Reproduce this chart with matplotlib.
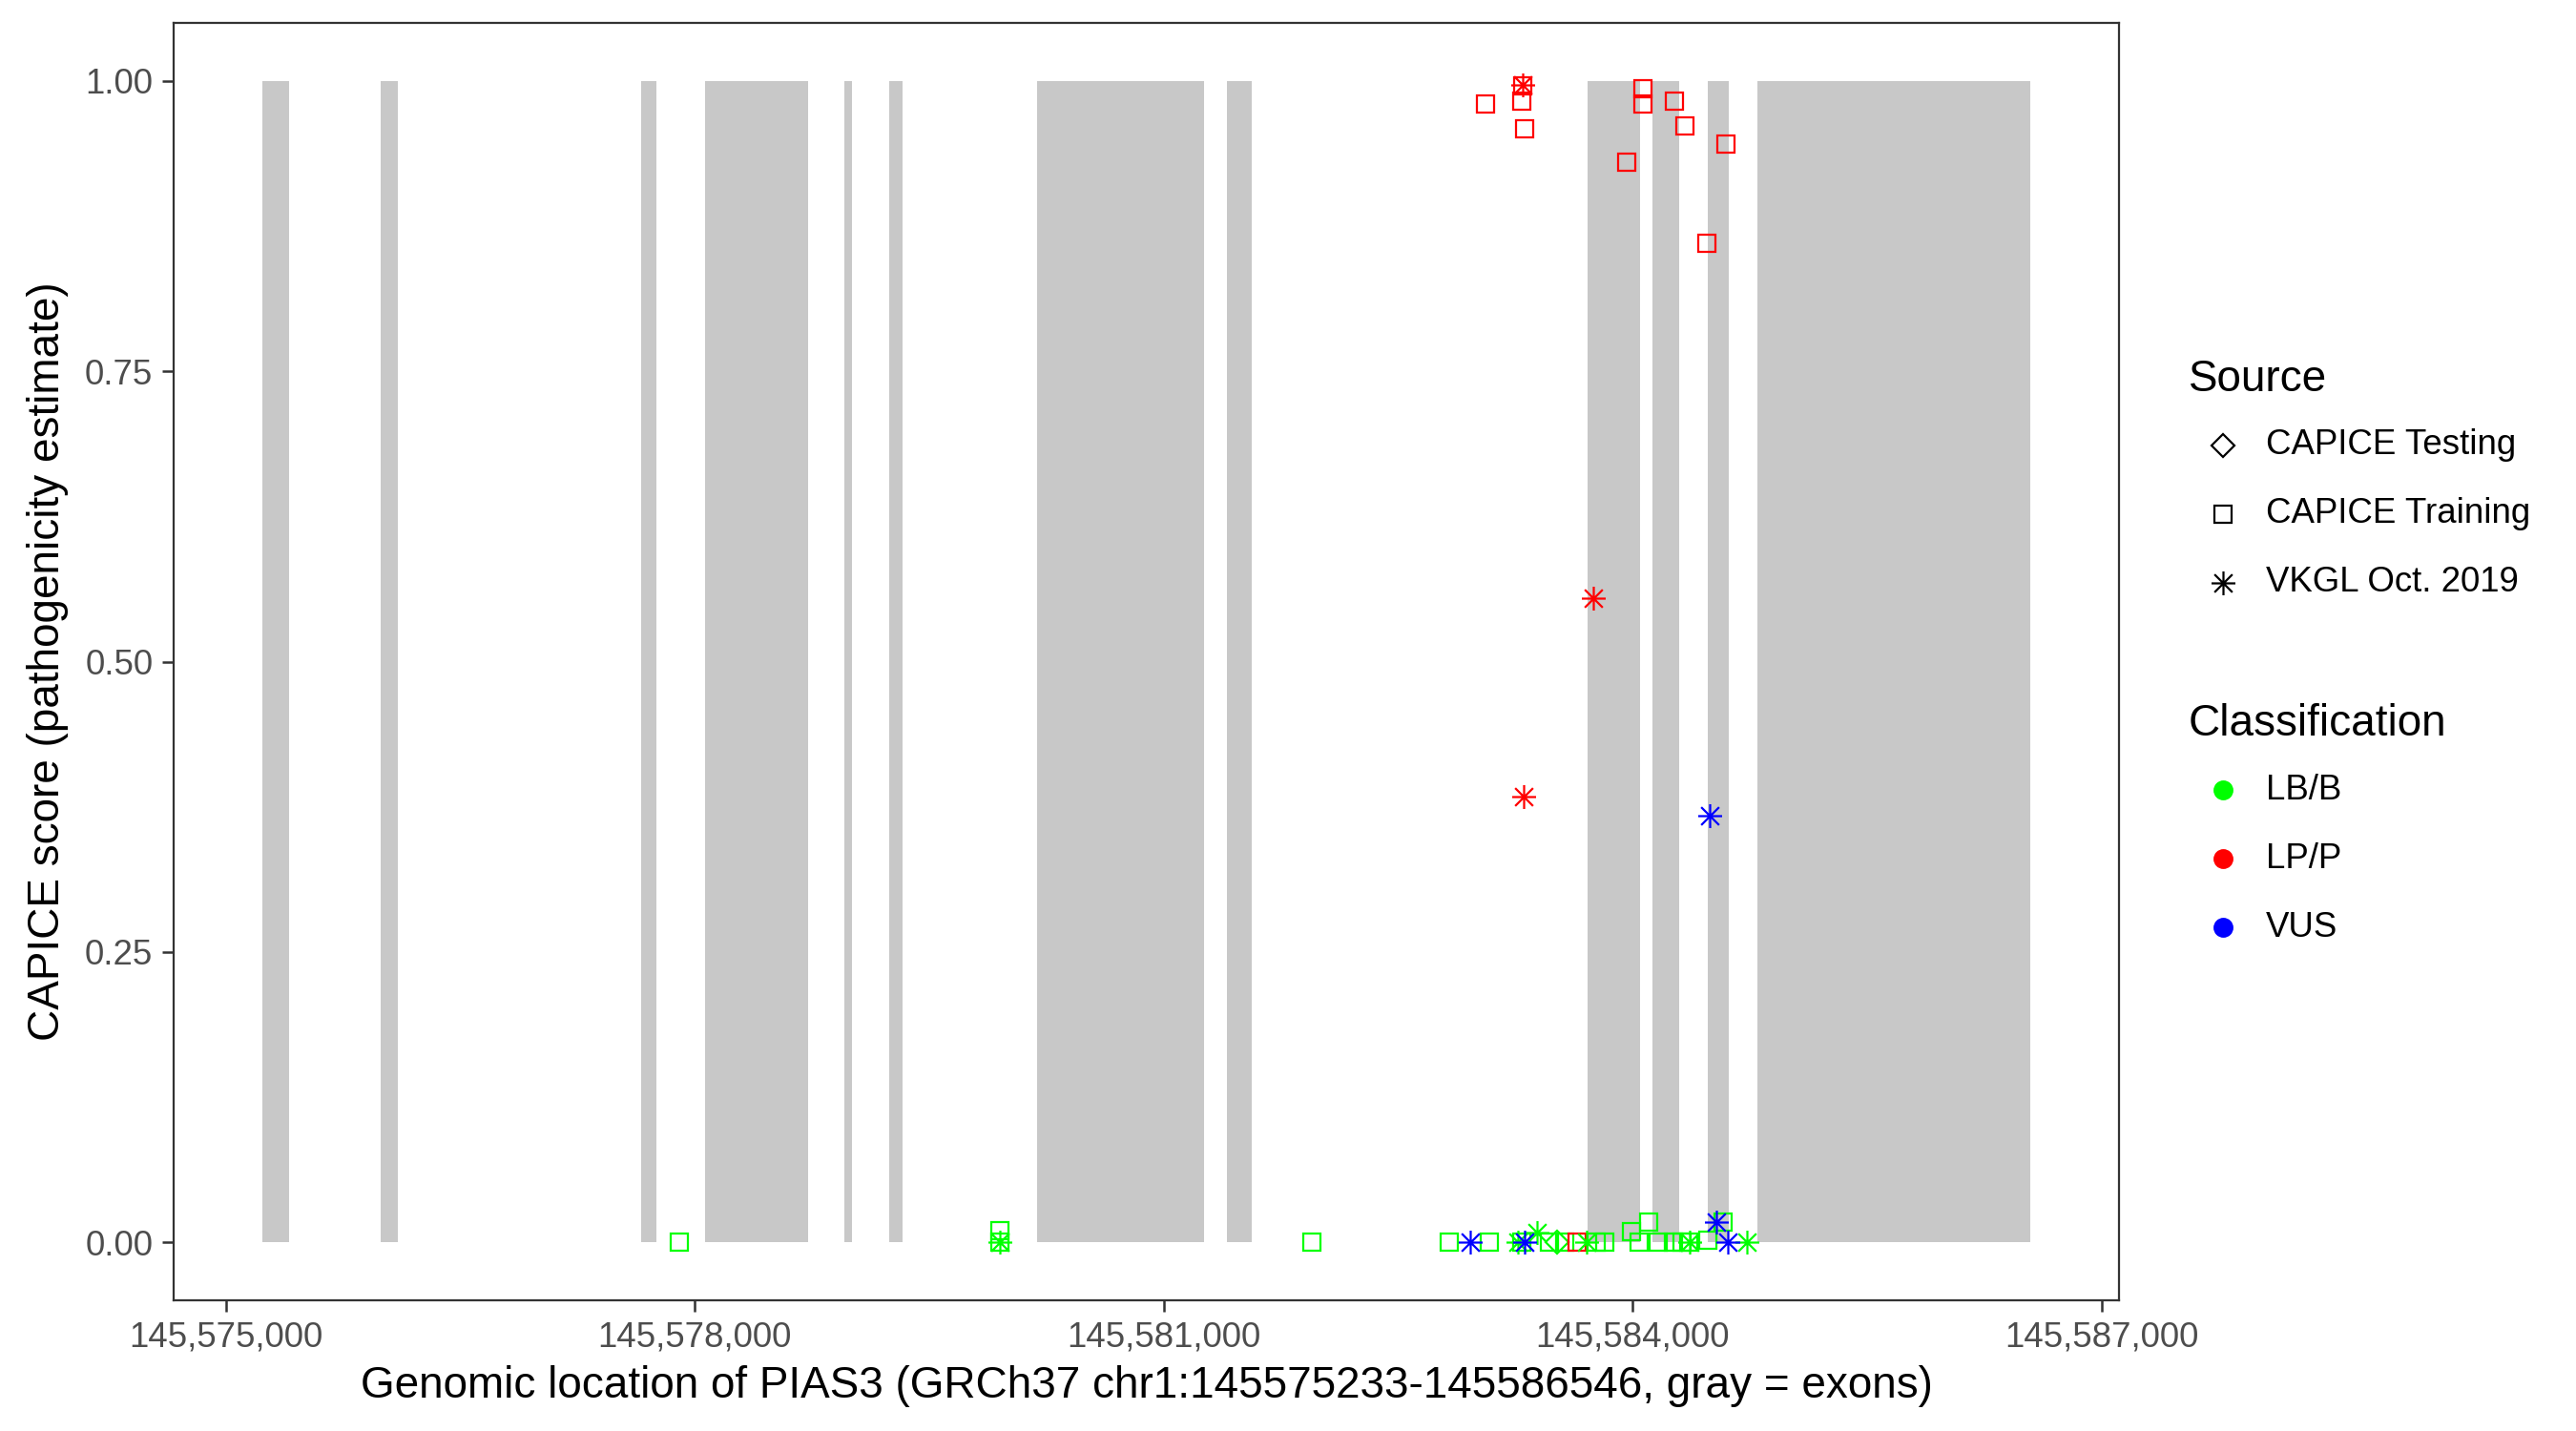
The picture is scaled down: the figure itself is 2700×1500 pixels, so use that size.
import numpy as np
import matplotlib
matplotlib.use('Agg')
import matplotlib.pyplot as plt
from matplotlib.path import Path
from matplotlib.lines import Line2D
from matplotlib.ticker import FuncFormatter

plt.rcParams['font.family'] = ['Liberation Sans', 'DejaVu Sans']

# exons of PIAS3 (GRCh37 chr1), start/end
exon_start = [145575233, 145575993, 145577656, 145578067, 145578955, 145579242,
              145580193, 145581405, 145583715, 145584130, 145584483, 145584800]
exon_end = [145575408, 145576104, 145577755, 145578723, 145579005, 145579332,
            145581259, 145581564, 145584050, 145584299, 145584615, 145586546]

# variants: position, CAPICE score, source, classification
var_pos = [145583061, 145583293, 145583307, 145583299, 145584069, 145584069,
           145584266, 145584335, 145583961, 145584595, 145584477, 145583648,
           145583299, 145583746, 145583303,
           145584493, 145582964, 145583309, 145584538, 145584609,
           145577902, 145579955, 145579955, 145579955, 145581951,
           145582825, 145583086, 145583290, 145583269, 145583390,
           145583471, 145583520, 145583563, 145583705, 145583770,
           145583823, 145583996, 145584101, 145584040, 145584162,
           145584264, 145584314, 145584359, 145584365, 145584481,
           145584578, 145584731]
var_score = [0.980, 0.9825, 0.9588, 0.996, 0.9934, 0.980,
             0.983, 0.961, 0.930, 0.9456, 0.860, 0.0,
             0.997, 0.5544, 0.3836,
             0.3672, 0.0, 0.0, 0.0175, 0.0,
             0.0, 0.0, 0.0, 0.0104, 0.0,
             0.0, 0.0, 0.0, 0.0, 0.008,
             0.0, 0.0, 0.0, 0.0, 0.0,
             0.0, 0.009, 0.0175, 0.0, 0.0,
             0.0, 0.0, 0.0, 0.0, 0.002,
             0.0175, 0.0]
var_source = (['CAPICE Training'] * 12 + ['VKGL Oct. 2019'] * 3 +
              ['VKGL Oct. 2019'] * 5 +
              ['CAPICE Training', 'CAPICE Training', 'VKGL Oct. 2019', 'CAPICE Training', 'CAPICE Training',
               'CAPICE Training', 'CAPICE Training', 'CAPICE Training', 'VKGL Oct. 2019', 'VKGL Oct. 2019',
               'CAPICE Training', 'CAPICE Testing', 'CAPICE Training', 'VKGL Oct. 2019', 'CAPICE Training',
               'CAPICE Training', 'CAPICE Training', 'CAPICE Training', 'CAPICE Training', 'CAPICE Training',
               'CAPICE Training', 'CAPICE Training', 'CAPICE Training', 'VKGL Oct. 2019', 'CAPICE Training',
               'CAPICE Training', 'VKGL Oct. 2019'])
var_class = (['LP/P'] * 15 + ['VUS'] * 5 + ['LB/B'] * 27)

sources = ['CAPICE Testing', 'CAPICE Training', 'VKGL Oct. 2019']
classes = ['LB/B', 'LP/P', 'VUS']
class_colors = {'LB/B': '#00ff00', 'LP/P': '#ff0000', 'VUS': '#0000ff'}

# asterisk like ggplot shape 8
d = 0.75
asterisk = Path([(-1, 0), (1, 0), (0, -1), (0, 1), (-d, -d), (d, d), (-d, d), (d, -d)],
                [Path.MOVETO, Path.LINETO] * 4)
source_marker = {'CAPICE Testing': ('D', 6.0), 'CAPICE Training': ('s', 6.4),
                 'VKGL Oct. 2019': (asterisk, 9.0)}

fig = plt.figure(figsize=(13.5, 7.5), dpi=200)
ax = fig.add_axes([0.0674, 0.0913, 0.7552, 0.8927])

# exons as gray bars from 0 to 1
ax.bar(exon_start, [1] * len(exon_start),
       width=np.array(exon_end) - np.array(exon_start),
       align='edge', color='#c8c8c8', linewidth=0, zorder=1)

pos = np.array(var_pos)
score = np.array(var_score)
src = np.array(var_source)
cls = np.array(var_class)
for s in sources:
    for c in classes:
        m = (src == s) & (cls == c)
        if not m.any():
            continue
        mk, ms = source_marker[s]
        ax.plot(pos[m], score[m], linestyle='none', marker=mk, markersize=ms,
                markerfacecolor='none', markeredgecolor=class_colors[c],
                markeredgewidth=0.8, zorder=3)

ax.set_xlim(145574667, 145587112)
ax.set_ylim(-0.05, 1.05)
ax.set_xticks(np.arange(145575000, 145587001, 3000))
ax.set_yticks([0, 0.25, 0.5, 0.75, 1.0])
ax.xaxis.set_major_formatter(FuncFormatter(lambda v, p: f'{int(v):,}'))
ax.yaxis.set_major_formatter(FuncFormatter(lambda v, p: f'{v:.2f}'))
ax.tick_params(labelsize=13.2, colors='#333333', labelcolor='#4d4d4d', length=4.3, width=0.9, pad=3.5)
for sp in ax.spines.values():
    sp.set_linewidth(0.8)
    sp.set_color('#333333')

ax.set_xlabel('Genomic location of PIAS3 (GRCh37 chr1:145575233-145586546, gray = exons)',
              fontsize=16.5, labelpad=4)
ax.set_ylabel('CAPICE score (pathogenicity estimate)', fontsize=16.5, labelpad=6)

# legends drawn at right, ggplot style
W, H = 2700.0, 1500.0
def fx(px):
    return px / W
def fy(py):
    return 1 - py / H

fig.text(fx(2294), fy(398), 'Source', fontsize=16.5, va='center', ha='left')
for i, s in enumerate(sources):
    yy = 467 + i * 72
    mk, ms = source_marker[s]
    fig.add_artist(Line2D([fx(2330)], [fy(yy)], transform=fig.transFigure, linestyle='none',
                          marker=mk, markersize=ms, markerfacecolor='none',
                          markeredgecolor='black', markeredgewidth=0.8))
    fig.text(fx(2375), fy(yy), s, fontsize=13.2, va='center', ha='left')

fig.text(fx(2294), fy(759), 'Classification', fontsize=16.5, va='center', ha='left')
for i, c in enumerate(classes):
    yy = 828 + i * 72
    fig.add_artist(Line2D([fx(2330)], [fy(yy)], transform=fig.transFigure, linestyle='none',
                          marker='o', markersize=6.5, markerfacecolor=class_colors[c],
                          markeredgecolor=class_colors[c]))
    fig.text(fx(2375), fy(yy), c, fontsize=13.2, va='center', ha='left')

fig.savefig('out.png', dpi=200)
